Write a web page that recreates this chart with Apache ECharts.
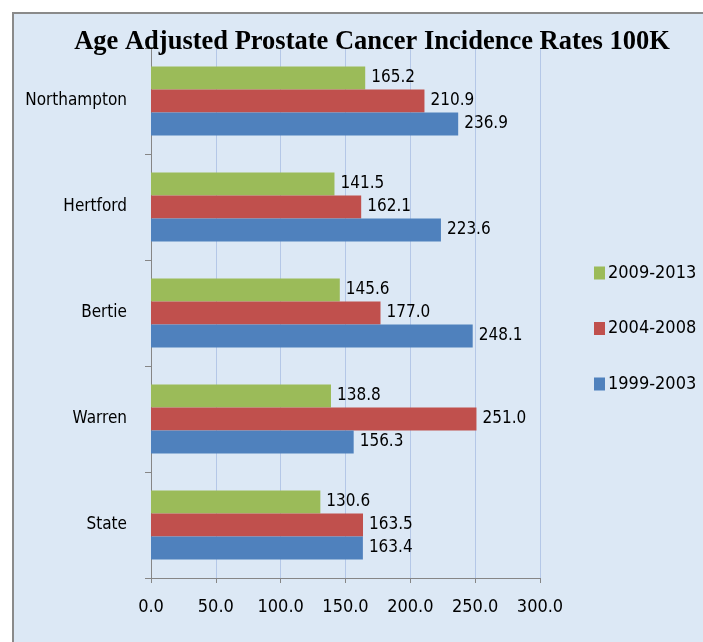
<!DOCTYPE html>
<html><head><meta charset="utf-8">
<script src="https://cdn.jsdelivr.net/npm/echarts@6/dist/echarts.min.js"></script>
<style>html,body{margin:0;padding:0;background:#fff;}#c{width:703px;height:642px;}</style>
</head><body><div id="c"></div>
<script>
const categories = ['State', 'Warren', 'Bertie', 'Hertford', 'Northampton'];
const s1999 = [163.4, 156.3, 248.1, 223.6, 236.9];
const s2004 = [163.5, 251.0, 177.0, 162.1, 210.9];
const s2009 = [130.6, 138.8, 145.6, 141.5, 165.2];
const seriesNames = ['2009-2013', '2004-2008', '1999-2003'];
const xTicks = {min: 0, max: 300, interval: 50};

const F = "'Liberation Sans Narrow','DejaVu Sans Condensed','Noto Sans',sans-serif";
const chart = echarts.init(document.getElementById('c'));
const lbl = {show: true, position: 'right', distance: 6, color: '#000', fontFamily: F, fontSize: 17,
  formatter: p => p.value.toFixed(1)};
function mk(name, data, color) {
  return {name, type: 'bar', data, barWidth: 23, itemStyle: {color}, label: lbl, barGap: '0%'};
}
chart.setOption({
  animation: false,
  graphic: [{type: 'rect', z: -10, shape: {x: 13, y: 13, width: 720, height: 660},
    style: {fill: '#dce8f5', stroke: '#8a8a8a', lineWidth: 2}}],
  title: {text: 'Age Adjusted Prostate Cancer Incidence Rates 100K', left: 367, top: 24, textAlign: 'center',
    textStyle: {fontFamily: "'Liberation Serif','Times New Roman',serif", fontWeight: 'bold', fontSize: 26.5, color: '#000'}},
  legend: {orient: 'vertical', left: 589, top: 259, itemGap: 37.5, itemWidth: 11, itemHeight: 13,
    data: seriesNames, icon: 'rect',
    textStyle: {fontFamily: F, fontSize: 18, color: '#000', padding: [0, 0, 0, -2]}},
  grid: {left: 151, right: 163, top: 48, bottom: 64, containLabel: false},
  xAxis: {type: 'value', min: xTicks.min, max: xTicks.max, interval: xTicks.interval,
    axisLine: {show: true, lineStyle: {color: '#868686'}},
    axisTick: {show: true, inside: false, length: 5, lineStyle: {color: '#868686'}},
    splitLine: {show: true, lineStyle: {color: '#b4c7e7', width: 1}},
    axisLabel: {margin: 20, fontFamily: F, fontSize: 18, color: '#000', formatter: v => v.toFixed(1)}},
  yAxis: {type: 'category', data: categories,
    axisLine: {show: true, lineStyle: {color: '#868686'}},
    axisTick: {show: true, length: 6, lineStyle: {color: '#868686'}},
    axisLabel: {margin: 24, fontFamily: F, fontSize: 17, color: '#000'}},
  series: [mk('2009-2013', s2009, '#9bbb59'), mk('2004-2008', s2004, '#c0504d'), mk('1999-2003', s1999, '#4f81bd')]
});
</script></body></html>
